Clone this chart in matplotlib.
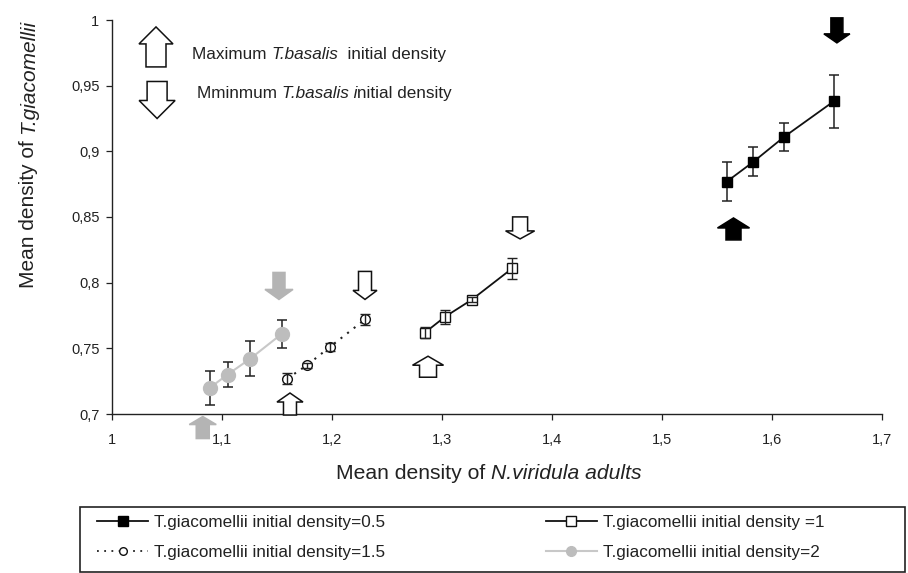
import matplotlib
matplotlib.use("Agg")
import matplotlib.pyplot as plt
import matplotlib.transforms as mtransforms
from matplotlib.patches import Polygon, Rectangle
from matplotlib.lines import Line2D
from matplotlib.ticker import FuncFormatter
from matplotlib import font_manager

# ---------------- data ----------------
x05 = [1.559, 1.583, 1.611, 1.656]
y05 = [0.877, 0.892, 0.911, 0.938]
e05 = [0.0145, 0.011, 0.0104, 0.0205]

x1 = [1.2845, 1.3027, 1.327, 1.364]
y1 = [0.762, 0.774, 0.787, 0.811]
e1 = [0.0045, 0.0055, 0.002, 0.008]

x15 = [1.1594, 1.177, 1.198, 1.230]
y15 = [0.727, 0.737, 0.751, 0.772]
e15 = [0.004, 0.002, 0.003, 0.004]

x2 = [1.089, 1.105, 1.1255, 1.1543]
y2 = [0.720, 0.730, 0.742, 0.761]
e2 = [0.013, 0.0093, 0.0133, 0.0108]

labels = ["T.giacomellii initial density=0.5",
          "T.giacomellii initial density =1",
          "T.giacomellii initial density=1.5",
          "T.giacomellii initial density=2"]

x_ticks = [1, 1.1, 1.2, 1.3, 1.4, 1.5, 1.6, 1.7]
y_ticks = [0.7, 0.75, 0.8, 0.85, 0.9, 0.95, 1.0]

# arrow markers: x, y(center), direction, style
arrow_x = [1.565, 1.659, 1.2873, 1.371, 1.1618, 1.23, 1.0825, 1.1518, 1.040, 1.041]
arrow_y = [0.8409, 0.9921, 0.736, 0.8417, 0.7076, 0.7979, 0.6897, 0.7975, 0.9795, 0.9391]
arrow_dir = ["up", "down", "up", "down", "up", "down", "up", "down", "up", "down"]
arrow_style = ["black", "black", "open", "open", "open", "open", "gray", "gray", "open", "open"]
# sizes in pixels: head width, shaft width, total height, head height
arrow_size = [(32, 15, 22, 10), (26, 12, 25, 9), (31, 17, 21, 9), (29, 15, 22, 8),
              (26, 13, 22, 9), (24, 13, 28, 9), (27, 13, 22, 8), (28, 12, 27, 10),
              (34, 20, 40, 17), (36, 20, 37, 18)]

# ---------------- fonts ----------------
available = {f.name for f in font_manager.fontManager.ttflist}
REG = "Liberation Sans" if "Liberation Sans" in available else "DejaVu Sans"
NARROW = "Liberation Sans Narrow" if "Liberation Sans Narrow" in available else REG
plt.rcParams["font.family"] = [REG, "DejaVu Sans"]

W, H = 908, 573
fig = plt.figure(figsize=(W / 100, H / 100), dpi=100)
ax = fig.add_axes([112 / W, 1 - 414 / H, (882 - 112) / W, (414 - 20) / H])
ax.set_xlim(1, 1.7)
ax.set_ylim(0.7, 1.0)
for s in ["top", "right"]:
    ax.spines[s].set_visible(False)
for s in ["left", "bottom"]:
    ax.spines[s].set_linewidth(1.0)
    ax.spines[s].set_color("#222222")

comma = FuncFormatter(lambda v, p: ("%g" % round(v, 3)).replace(".", ","))
ax.set_xticks(x_ticks)
ax.set_yticks(y_ticks)
ax.xaxis.set_major_formatter(comma)
ax.yaxis.set_major_formatter(comma)
ax.tick_params(direction="out", length=4, width=0.9, labelsize=10.5, color="#222222",
               labelcolor="#222222")
ax.tick_params(axis="x", pad=10)
ax.tick_params(axis="y", pad=5)

# ---------------- series ----------------
# 0.5 : filled black squares
ax.errorbar(x05, y05, yerr=e05, fmt="none", ecolor="#222222", elinewidth=1.1,
            capsize=3.5, capthick=1.1, zorder=3)
ax.plot(x05, y05, "-", color="#111111", lw=1.3, marker="s", ms=7,
        mfc="#000000", mec="#000000", zorder=4)
# 1 : open squares
ax.plot(x1, y1, "-", color="#111111", lw=1.3, marker="s", ms=6.5,
        mfc="white", mec="#111111", mew=1.0, zorder=3)
ax.errorbar(x1, y1, yerr=e1, fmt="none", ecolor="#222222", elinewidth=1.0,
            capsize=3.5, capthick=1.0, zorder=4)
# 1.5 : open circles, dotted
ax.plot(x15, y15, linestyle=(0, (1, 3.0)), color="#222222", lw=1.5, marker="o", ms=7,
        mfc="white", mec="#111111", mew=1.0, zorder=3)
ax.errorbar(x15, y15, yerr=e15, fmt="none", ecolor="#222222", elinewidth=1.0,
            capsize=3.5, capthick=1.0, zorder=4)
# 2 : grey circles
ax.errorbar(x2, y2, yerr=e2, fmt="none", ecolor="#222222", elinewidth=1.1,
            capsize=3.5, capthick=1.1, zorder=3)
ax.plot(x2, y2, "-", color="#c8c8c8", lw=1.5, marker="o", ms=10,
        mfc="#bdbdbd", mec="#bdbdbd", zorder=4)

# ---------------- block arrows ----------------
style_colors = {"black": ("#000000", "#000000"),
                "open": ("white", "#111111"),
                "gray": ("#b4b4b4", "#b4b4b4")}


def block_arrow(x, y, direction, style, size):
    hw, sw, th, hh = size
    sgn = 1 if direction == "up" else -1
    pts = [(0, sgn * th / 2), (hw / 2, sgn * (th / 2 - hh)), (sw / 2, sgn * (th / 2 - hh)),
           (sw / 2, -sgn * th / 2), (-sw / 2, -sgn * th / 2), (-sw / 2, sgn * (th / 2 - hh)),
           (-hw / 2, sgn * (th / 2 - hh))]
    trans = mtransforms.Affine2D() + mtransforms.ScaledTranslation(x, y, ax.transData)
    fc, ec = style_colors[style]
    ax.add_patch(Polygon(pts, closed=True, transform=trans, facecolor=fc, edgecolor=ec,
                         lw=1.1, clip_on=False, zorder=5, joinstyle="miter"))


for i in range(len(arrow_x)):
    block_arrow(arrow_x[i], arrow_y[i], arrow_dir[i], arrow_style[i], arrow_size[i])

# ---------------- rich text helper ----------------
renderer = fig.canvas.get_renderer()


def rich_text(x, y, parts, transform, rotation=0, center=False, **kw):
    """parts: list of (string, fontstyle); draws consecutively along the text direction."""
    objs = []
    total = 0.0
    for s, st in parts:
        if rotation == 0:
            tr = mtransforms.offset_copy(transform, fig=fig, x=total, y=0, units="dots")
        else:
            tr = mtransforms.offset_copy(transform, fig=fig, x=0, y=total, units="dots")
        t = fig.text(x, y, s, transform=tr, rotation=rotation, rotation_mode="anchor",
                     ha="left", va="baseline", fontstyle=st, **kw)
        ext = t.get_window_extent(renderer)
        total += ext.width if rotation == 0 else ext.height
        objs.append(t)
    if center:
        total2 = 0.0
        for t in objs:
            ext = t.get_window_extent(renderer)
            if rotation == 0:
                t.set_transform(mtransforms.offset_copy(transform, fig=fig, x=total2 - total / 2,
                                                        y=0, units="dots"))
                total2 += ext.width
            else:
                t.set_transform(mtransforms.offset_copy(transform, fig=fig, x=0,
                                                        y=total2 - total / 2, units="dots"))
                total2 += ext.height
    return objs


px = mtransforms.Affine2D().scale(1, -1).translate(0, H)  # pixel coords from top-left

# axis labels
rich_text(489, 479, [("Mean density of ", "normal"), ("N.viridula adults", "italic")],
          px, center=True, family=[NARROW, REG], fontsize=15.2, color="#222222")
rich_text(34, 154, [("Mean density of ", "normal"), ("T.giacomellii", "italic")],
          px, rotation=90, center=True, family=[NARROW, REG], fontsize=15, color="#222222")

# arrow legend texts
rich_text(192, 59, [("Maximum ", "normal"), ("T.basalis", "italic"), ("  initial density", "normal")],
          px, family=[REG], fontsize=12.3, color="#222222")
rich_text(197, 98, [("Mminmum ", "normal"), ("T.basalis i", "italic"), ("nitial density", "normal")],
          px, family=[REG], fontsize=12.3, color="#222222")

# ---------------- legend ----------------
h05 = Line2D([], [], color="#111111", lw=1.3, marker="s", ms=7, mfc="black", mec="black")
h1 = Line2D([], [], color="#111111", lw=1.3, marker="s", ms=6.5, mfc="white", mec="#111111")
h15 = Line2D([], [], color="#222222", lw=1.3, linestyle=(0, (1, 3)), marker="o", ms=5.5,
             mfc="white", mec="#111111")
h2 = Line2D([], [], color="#c8c8c8", lw=1.5, marker="o", ms=7, mfc="#bdbdbd", mec="#bdbdbd")

leg = fig.legend([h05, h15, h1, h2], [labels[0], labels[2], labels[1], labels[3]],
                 ncol=2, loc="upper left", bbox_to_anchor=(97 / W, 1 - 515 / H),
                 frameon=False, borderpad=0, borderaxespad=0, handlelength=3.0,
                 handletextpad=0.35, columnspacing=9.4, labelspacing=0.85,
                 prop={"family": [NARROW, REG], "size": 12.3})
for t in leg.get_texts():
    t.set_color("#222222")

fig.patches.append(Rectangle((80 / W, 0.002), (905 - 80) / W, (572 - 507) / H,
                             transform=fig.transFigure, fill=False, edgecolor="#222222",
                             lw=1.2))

fig.savefig("out.png", dpi=100)
